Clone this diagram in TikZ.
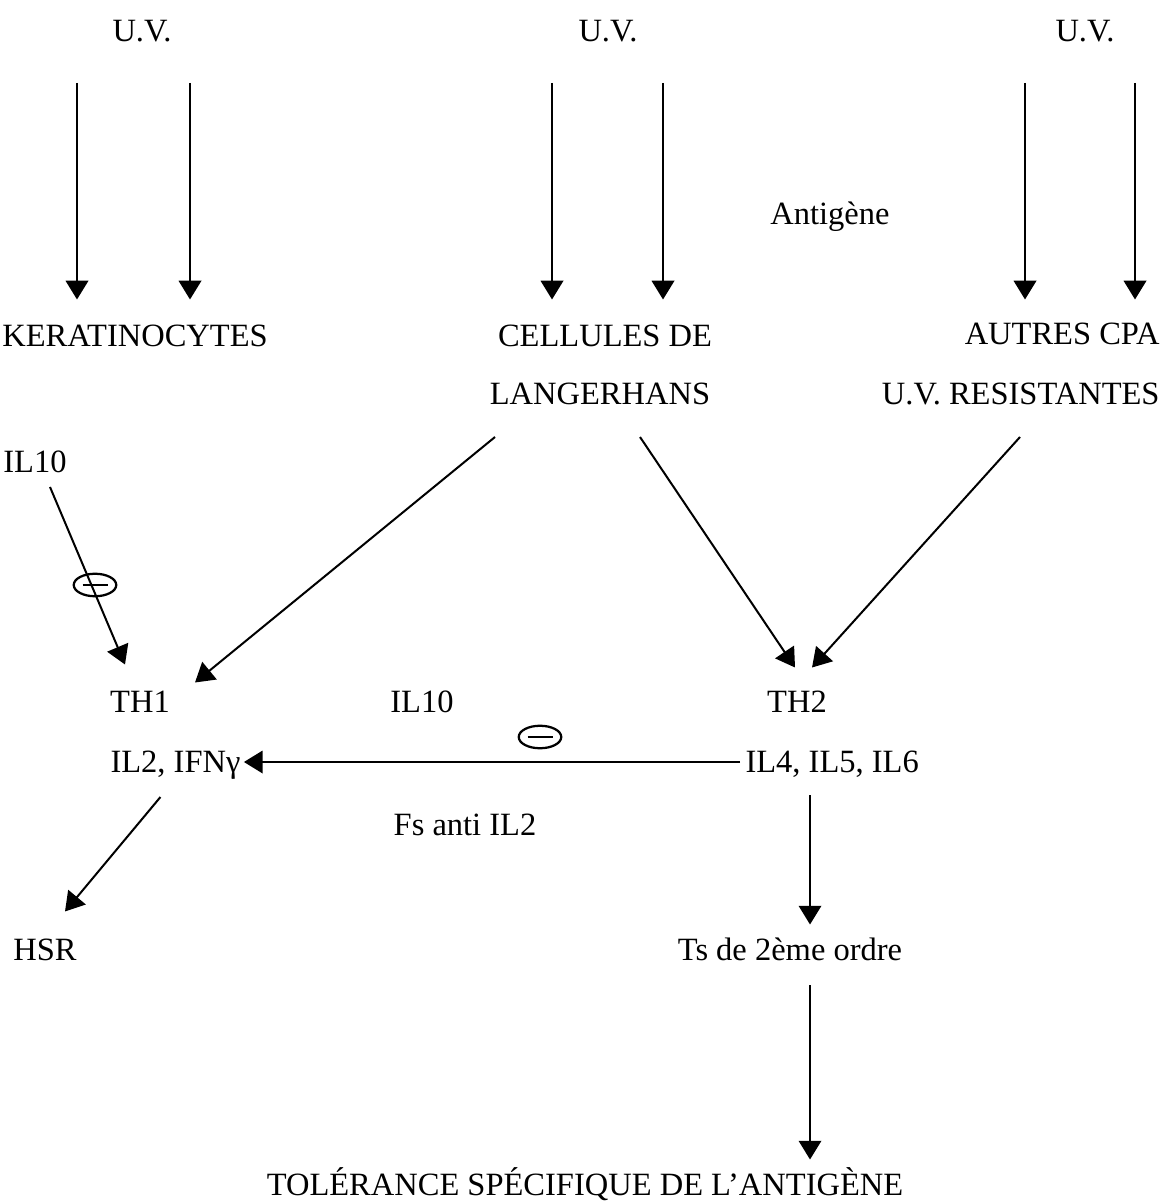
\documentclass[tikz,border=0pt]{standalone}
\usepackage{fontspec}
\setmainfont{Liberation Serif}
\usetikzlibrary{arrows.meta,calc,shapes.geometric}

\begin{document}
\begin{tikzpicture}[x=0.4pt,y=-0.4pt,
  lbl/.style={inner sep=0pt,anchor=base,text height=8pt,text depth=0pt,font=\fontsize{13}{15}\selectfont},
  arr/.style={line width=0.8pt,-{Triangle[width=9pt,length=7.5pt]}},
  minus/.style={ellipse,draw,line width=0.9pt,minimum width=17pt,minimum height=9pt,inner sep=0pt,
    path picture={\draw[line width=0.9pt] ([xshift=-5pt]path picture bounding box.center) -- ([xshift=5pt]path picture bounding box.center);}}]
\useasboundingbox (0,0) rectangle (1167,1203);
% labels
\node[lbl] (uvL) at (142,42) {U.V.};
\node[lbl] (uvM) at (608,42) {U.V.};
\node[lbl] (uvR) at (1085,42) {U.V.};
\node[lbl] (anti) at (830,225) {Antigène};
\node[lbl] (kera) at (135,347) {KERATINOCYTES};
\node[lbl] (cell) at (605,347) {CELLULES DE};
\node[lbl] (lang) at (600,405) {LANGERHANS};
\node[lbl,anchor=base east] (autr) at (1160,345) {AUTRES CPA};
\node[lbl,anchor=base east] (resi) at (1160,405) {U.V. RESISTANTES};
\node[lbl] (ilA) at (35,473) {IL10};
\node[lbl] (th1) at (140,712) {TH1};
\node[lbl] (ilB) at (422,712) {IL10};
\node[lbl] (th2) at (797,712) {TH2};
\node[lbl,anchor=base west] (il2) at (110,772) {IL2, IFNγ};
\node[lbl,anchor=base west] (il4) at (745,772) {IL4, IL5, IL6};
\node[lbl] (fs) at (465,835) {Fs anti IL2};
\node[lbl] (hsr) at (45,960) {HSR};
\node[lbl] (ts) at (790,960) {Ts de 2ème ordre};
\node[lbl] (tol) at (585,1195) {TOLÉRANCE SPÉCIFIQUE DE L’ANTIGÈNE};
\node[minus] (m1) at (95,585) {};
\node[minus] (m2) at (540,737) {};
% U.V. arrows
\draw[arr] ($(uvL.base)+(-65,41)$) -- ($(kera.north)+(-58,-27)$);
\draw[arr] ($(uvL.base)+(48,41)$) -- ($(kera.north)+(55,-27)$);
\draw[arr] ($(uvM.base)+(-56,41)$) -- ($(cell.north)+(-53,-27)$);
\draw[arr] ($(uvM.base)+(55,41)$) -- ($(cell.north)+(58,-27)$);
\draw[arr] ($(uvR.base)+(-60,41)$) -- ($(autr.north east)+(-135,-25)$);
\draw[arr] ($(uvR.base)+(50,41)$) -- ($(autr.north east)+(-25,-25)$);
% towards TH1 / TH2
\draw[arr] ($(ilA.base)+(15,14)$) -- ($(th1.north)+(-15,-27)$);
\draw[arr] ($(lang.base)+(-105,32)$) -- ($(th1.north)+(55,-9)$);
\draw[arr] ($(lang.base)+(40,32)$) -- ($(th2.north)+(-2,-24)$);
\draw[arr] ($(resi.base east)+(-140,32)$) -- ($(th2.north)+(15,-24)$);
% lower part
\draw[arr] ($(il4.base west)+(-5,-10)$) -- ($(il2.base east)+(3,-10)$);
\draw[arr] ($(il2.base)+(-15,25)$) -- ($(hsr.north)+(20,-28)$);
\draw[arr] ($(il4.base west)+(65,23)$) -- ($(ts.north)+(20,-15)$);
\draw[arr] ($(ts.base)+(20,25)$) -- ($(tol.north)+(225,-15)$);
\end{tikzpicture}
\end{document}
